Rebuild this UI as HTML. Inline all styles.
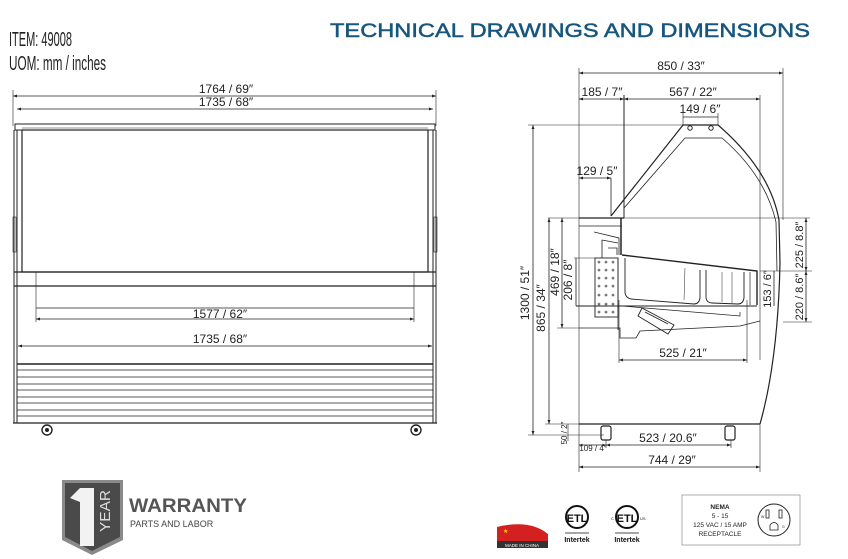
<!DOCTYPE html>
<html><head><meta charset="utf-8"><style>
html,body{margin:0;padding:0;background:#fff;}
svg{display:block;font-family:"Liberation Sans",sans-serif;}
</style></head><body>
<svg width="848" height="559" viewBox="0 0 848 559" xmlns="http://www.w3.org/2000/svg">
<defs>
<marker id="a" viewBox="0 0 6 6" refX="6" refY="3" markerWidth="5" markerHeight="5" orient="auto-start-reverse"><path d="M0,0.8 L6,3 L0,5.2z" fill="#222"/></marker>
</defs>
<!-- header -->
<text x="330" y="37" font-size="19.5" fill="#17577e" stroke="#17577e" stroke-width="0.5" textLength="480" lengthAdjust="spacingAndGlyphs">TECHNICAL DRAWINGS AND DIMENSIONS</text>
<text x="9" y="46" font-size="20" fill="#222" textLength="63" lengthAdjust="spacingAndGlyphs">ITEM: 49008</text>
<text x="9" y="70" font-size="20" fill="#222" textLength="97" lengthAdjust="spacingAndGlyphs">UOM: mm / inches</text>

<g stroke="#222" fill="none" stroke-width="1">
<!-- LEFT FRONT VIEW -->
<line x1="13" y1="90" x2="13" y2="126" stroke-width="0.6"/><line x1="436" y1="90" x2="436" y2="126" stroke-width="0.6"/>
<line x1="13" y1="96" x2="436" y2="96" marker-start="url(#a)" marker-end="url(#a)" stroke-width="0.8"/>
<line x1="17" y1="109" x2="433" y2="109" marker-start="url(#a)" marker-end="url(#a)" stroke-width="0.8"/>
<rect x="15" y="124" width="420" height="6" stroke-width="1"/>
<line x1="22" y1="128" x2="428" y2="128" stroke-width="0.6"/>
<rect x="22" y="130" width="406" height="142" stroke-width="1.2"/>
<line x1="14" y1="130" x2="14" y2="423"/><line x1="436" y1="130" x2="436" y2="423"/>
<line x1="17" y1="130" x2="17" y2="423"/><line x1="433" y1="130" x2="433" y2="423"/>
<rect x="13" y="217" width="3" height="35" stroke-width="0.6"/><rect x="434" y="217" width="3" height="35" stroke-width="0.6"/>
<line x1="14" y1="272" x2="436" y2="272" stroke-width="1.3"/>
<line x1="14" y1="286" x2="436" y2="286" stroke-width="1.3"/>
<line x1="36" y1="272" x2="36" y2="322" stroke-width="0.6"/><line x1="414" y1="272" x2="414" y2="322" stroke-width="0.6"/>
<line x1="36" y1="308" x2="414" y2="308" stroke-width="0.8"/>
<line x1="36" y1="319" x2="414" y2="319" marker-start="url(#a)" marker-end="url(#a)" stroke-width="0.8"/>
<line x1="18" y1="346" x2="432" y2="346" marker-start="url(#a)" marker-end="url(#a)" stroke-width="0.8"/>
<line x1="17" y1="364" x2="433" y2="364" stroke-width="1.4"/>
<g stroke-width="0.8">
<line x1="17" y1="370" x2="433" y2="370"/><line x1="17" y1="377" x2="433" y2="377"/>
<line x1="17" y1="384" x2="433" y2="384"/><line x1="17" y1="390" x2="433" y2="390"/>
<line x1="17" y1="397" x2="433" y2="397"/><line x1="17" y1="403" x2="433" y2="403"/>
<line x1="17" y1="410" x2="433" y2="410"/><line x1="17" y1="416" x2="433" y2="416"/>
</g>
<line x1="13" y1="423" x2="437" y2="423" stroke-width="1.3"/>
<circle cx="47" cy="430" r="5" stroke-width="1.4"/><circle cx="47" cy="430" r="1.5" fill="#222"/>
<circle cx="416" cy="430" r="5" stroke-width="1.4"/><circle cx="416" cy="430" r="1.5" fill="#222"/>

<!-- RIGHT SIDE VIEW -->
<line x1="579" y1="68" x2="579" y2="472" stroke-width="0.6"/>
<line x1="783" y1="68" x2="783" y2="220" stroke-width="0.6"/>
<line x1="579" y1="73" x2="783" y2="73" marker-start="url(#a)" marker-end="url(#a)" stroke-width="0.8"/>
<line x1="579" y1="99" x2="624" y2="99" marker-start="url(#a)" marker-end="url(#a)" stroke-width="0.8"/>
<line x1="624" y1="99" x2="760" y2="99" marker-start="url(#a)" marker-end="url(#a)" stroke-width="0.8"/>
<line x1="760" y1="95" x2="760" y2="360" stroke-width="0.6"/>
<line x1="624" y1="95" x2="624" y2="218" stroke-width="1"/>
<line x1="683" y1="113" x2="683" y2="125" stroke-width="0.6"/><line x1="718" y1="113" x2="718" y2="125" stroke-width="0.6"/>
<line x1="683" y1="117" x2="718" y2="117" stroke-width="0.8"/>
<path d="M611,216 L683,125 L718,125 Q770,170 779,220 L780,263" stroke-width="1.2"/>
<path d="M780,263 Q778,360 760,424" stroke-width="1.2"/>
<path d="M624,208 L685,138 L722,138 Q765,175 776,222 L777,271" stroke-width="0.8"/>
<circle cx="690" cy="128" r="2.2"/><circle cx="711" cy="128" r="2.2"/>
<line x1="611" y1="178" x2="611" y2="216" stroke-width="0.8"/>
<line x1="579" y1="178" x2="611" y2="178" marker-start="url(#a)" marker-end="url(#a)" stroke-width="0.8"/>
<line x1="548" y1="218" x2="810" y2="218" stroke-width="0.6"/>
<line x1="579" y1="218" x2="624" y2="218" stroke-width="1.2"/>
<line x1="579" y1="226" x2="622" y2="226" stroke-width="0.8"/>
<path d="M594,232 L619,238 L619,255 M602,240 L618,243 M602,240 L602,258 M608,248 L617,248 L617,255" stroke-width="0.8"/>
<line x1="621" y1="218" x2="621" y2="255" stroke-width="1.5"/>
<path d="M622,255 L757,271 L757,305" stroke-width="1.4"/>
<path d="M625,258 L625,293 Q626,298 631,299 L694,304 Q699,304 700,298 L700,270" stroke-width="0.9"/>
<path d="M706,270 L706,298 Q707,303 712,303 L738,304 Q743,304 744,298 L744,272" stroke-width="0.9"/>
<path d="M685,268 L684,300 M722,272 L722,302 M732,272 L732,303" stroke-width="0.5"/>
<line x1="750" y1="272" x2="750" y2="305" stroke-width="0.7"/>
<rect x="595" y="258" width="23" height="59" stroke-width="0.9"/>
<g fill="none" stroke-width="0.6">
<circle cx="599" cy="262" r="1"/><circle cx="606" cy="262" r="1"/><circle cx="613" cy="262" r="1"/>
<circle cx="599" cy="270" r="1"/><circle cx="606" cy="270" r="1"/><circle cx="613" cy="270" r="1"/>
<circle cx="599" cy="278" r="1"/><circle cx="606" cy="278" r="1"/><circle cx="613" cy="278" r="1"/>
<circle cx="599" cy="286" r="1"/><circle cx="606" cy="286" r="1"/><circle cx="613" cy="286" r="1"/>
<circle cx="599" cy="295" r="1"/><circle cx="606" cy="295" r="1"/><circle cx="613" cy="295" r="1"/>
<circle cx="599" cy="304" r="1"/><circle cx="606" cy="304" r="1"/><circle cx="613" cy="304" r="1"/>
<circle cx="599" cy="312" r="1"/><circle cx="606" cy="312" r="1"/><circle cx="613" cy="312" r="1"/>
</g>
<line x1="618" y1="258" x2="618" y2="330" stroke-width="0.8"/>
<line x1="576" y1="306" x2="757" y2="306" stroke-width="0.9"/>
<path d="M622,306 L740,316 L740,312" stroke-width="0.7"/>
<path d="M642,308 L638,316 L668,334 L674,325 Z M645,312 L668,324" stroke-width="0.9"/>
<path d="M579,328 L620,328 L620,338 L636,338 L640,331 L740,326 L760,321" stroke-width="0.8"/>
<line x1="557" y1="328" x2="579" y2="328" stroke-width="0.6"/>
<line x1="619" y1="300" x2="619" y2="363" stroke-width="0.6"/>
<line x1="747" y1="300" x2="747" y2="363" stroke-width="0.6"/>
<line x1="619" y1="360" x2="747" y2="360" marker-start="url(#a)" marker-end="url(#a)" stroke-width="0.8"/>
<line x1="579" y1="424" x2="760" y2="424" stroke-width="1.2"/>
<rect x="601" y="426" width="10" height="14" rx="2" stroke-width="1.2"/>
<rect x="725" y="426" width="10" height="14" rx="2" stroke-width="1.2"/>
<line x1="606" y1="440" x2="606" y2="448" stroke-width="0.6"/><line x1="731" y1="440" x2="731" y2="448" stroke-width="0.6"/>
<line x1="760" y1="424" x2="760" y2="472" stroke-width="0.6"/>
<line x1="579" y1="445" x2="606" y2="445" marker-start="url(#a)" marker-end="url(#a)" stroke-width="0.7"/>
<line x1="606" y1="445" x2="731" y2="445" marker-start="url(#a)" marker-end="url(#a)" stroke-width="0.8"/>
<line x1="579" y1="467" x2="760" y2="467" marker-start="url(#a)" marker-end="url(#a)" stroke-width="0.8"/>
<line x1="528" y1="125" x2="683" y2="125" stroke-width="0.6"/>
<line x1="528" y1="435" x2="604" y2="435" stroke-width="0.6"/>
<line x1="533" y1="125" x2="533" y2="435" marker-start="url(#a)" marker-end="url(#a)" stroke-width="0.8"/>
<line x1="545" y1="424" x2="579" y2="424" stroke-width="0.6"/>
<line x1="549" y1="218" x2="549" y2="424" marker-start="url(#a)" marker-end="url(#a)" stroke-width="0.8"/>
<line x1="562" y1="218" x2="562" y2="328" marker-start="url(#a)" marker-end="url(#a)" stroke-width="0.8"/>
<line x1="574" y1="258" x2="595" y2="258" stroke-width="0.6"/>
<line x1="576" y1="258" x2="576" y2="306" stroke-width="0.8"/>
<line x1="568" y1="424" x2="568" y2="441" stroke-width="0.6"/>
<line x1="760" y1="271" x2="812" y2="271" stroke-width="0.6"/>
<line x1="783" y1="322" x2="812" y2="322" stroke-width="0.6"/>
<line x1="806" y1="218" x2="806" y2="271" marker-start="url(#a)" marker-end="url(#a)" stroke-width="0.8"/>
<line x1="806" y1="271" x2="806" y2="322" marker-start="url(#a)" marker-end="url(#a)" stroke-width="0.8"/>
<line x1="774" y1="271" x2="774" y2="306" stroke-width="0.8"/>
</g>

<g font-size="12" fill="#222" text-anchor="middle">
<text x="226" y="93">1764 / 69″</text>
<text x="226" y="106">1735 / 68″</text>
<text x="220" y="318">1577 / 62″</text>
<text x="220" y="343">1735 / 68″</text>
<text x="681" y="70">850 / 33″</text>
<text x="602" y="96">185 / 7″</text>
<text x="693" y="96">567 / 22″</text>
<text x="700" y="113">149 / 6″</text>
<text x="597" y="175">129 / 5″</text>
<text x="683" y="357">525 / 21″</text>
<text x="668" y="442">523 / 20.6″</text>
<text x="672" y="464">744 / 29″</text>
<text x="593" y="451" font-size="8">109 / 4″</text>
<text transform="translate(529,293) rotate(-90)">1300 / 51″</text>
<text transform="translate(545,308) rotate(-90)">865 / 34″</text>
<text transform="translate(559,272) rotate(-90)">469 / 18″</text>
<text transform="translate(572,280) rotate(-90)">206 / 8″</text>
<text transform="translate(567,433) rotate(-90)" font-size="8">50 / 2″</text>
<text transform="translate(803,245) rotate(-90)" font-size="11">225 / 8.8″</text>
<text transform="translate(803,297) rotate(-90)" font-size="11">220 / 8.6″</text>
<text transform="translate(771,289) rotate(-90)" font-size="11">153 / 6″</text>
</g>

<path d="M62,480 L123,480 L123,540 L92,555 L62,540 Z" fill="#8a8a8a"/>
<path d="M65,483 L120,483 L120,537 L92,551 L65,537 Z" fill="#4a4a4a"/>
<path d="M70,498 L80,488 L94,488 L94,546 L80,546 L80,502 Z" fill="#f2f2f2"/>
<text transform="translate(110,532) rotate(-90)" font-size="15" fill="#ddd" textLength="42" lengthAdjust="spacingAndGlyphs">YEAR</text>
<text x="129" y="512" font-size="19" font-weight="bold" fill="#555" textLength="118" lengthAdjust="spacingAndGlyphs">WARRANTY</text>
<text x="130" y="527" font-size="9" fill="#444">PARTS AND LABOR</text>

<path d="M497,527 Q530,519 548,534 L548,541 L497,541 Z" fill="#d42020"/>
<rect x="497" y="541" width="51" height="7" fill="#333"/>
<text x="522" y="547" font-size="4.5" fill="#fff" text-anchor="middle">MADE IN CHINA</text>
<text x="503" y="533" font-size="6" fill="#ffd500">★</text>
<g fill="none" stroke="#111">
<circle cx="577" cy="517" r="11" stroke-width="2"/>
<circle cx="627" cy="517" r="11" stroke-width="2"/>
<line x1="565" y1="533" x2="589" y2="533" stroke-width="0.8"/>
<line x1="615" y1="533" x2="639" y2="533" stroke-width="0.8"/>
</g>
<text x="577" y="522" font-size="11" font-weight="bold" text-anchor="middle" fill="#111">ETL</text>
<text x="627" y="522" font-size="11" font-weight="bold" text-anchor="middle" fill="#111">ETL</text>
<text x="577" y="542" font-size="7" font-weight="bold" text-anchor="middle" fill="#111">Intertek</text>
<text x="627" y="542" font-size="7" font-weight="bold" text-anchor="middle" fill="#111">Intertek</text>
<text x="611" y="520" font-size="4" fill="#111">C</text><text x="640" y="520" font-size="4" fill="#111">US</text>

<rect x="682" y="495" width="118" height="50" fill="none" stroke="#999" stroke-width="0.8"/>
<g font-size="6.5" fill="#222" text-anchor="middle">
<text x="720" y="509" font-weight="bold">NEMA</text>
<text x="720" y="518">5 - 15</text>
<text x="720" y="527">125 VAC / 15 AMP</text>
<text x="720" y="536">RECEPTACLE</text>
</g>
<circle cx="774" cy="520" r="16" fill="none" stroke="#222" stroke-width="1"/>
<rect x="766" y="510" width="3" height="8" fill="none" stroke="#222" stroke-width="0.8"/>
<rect x="779" y="510" width="3" height="8" fill="none" stroke="#222" stroke-width="0.8"/>
<path d="M770,530 L770,525 Q774,520 778,525 L778,530 Z" fill="none" stroke="#222" stroke-width="0.8"/>
<text x="761" y="518" font-size="3.5" fill="#222">W</text><text x="782" y="528" font-size="3.5" fill="#222">G</text>
</svg>
</body></html>
